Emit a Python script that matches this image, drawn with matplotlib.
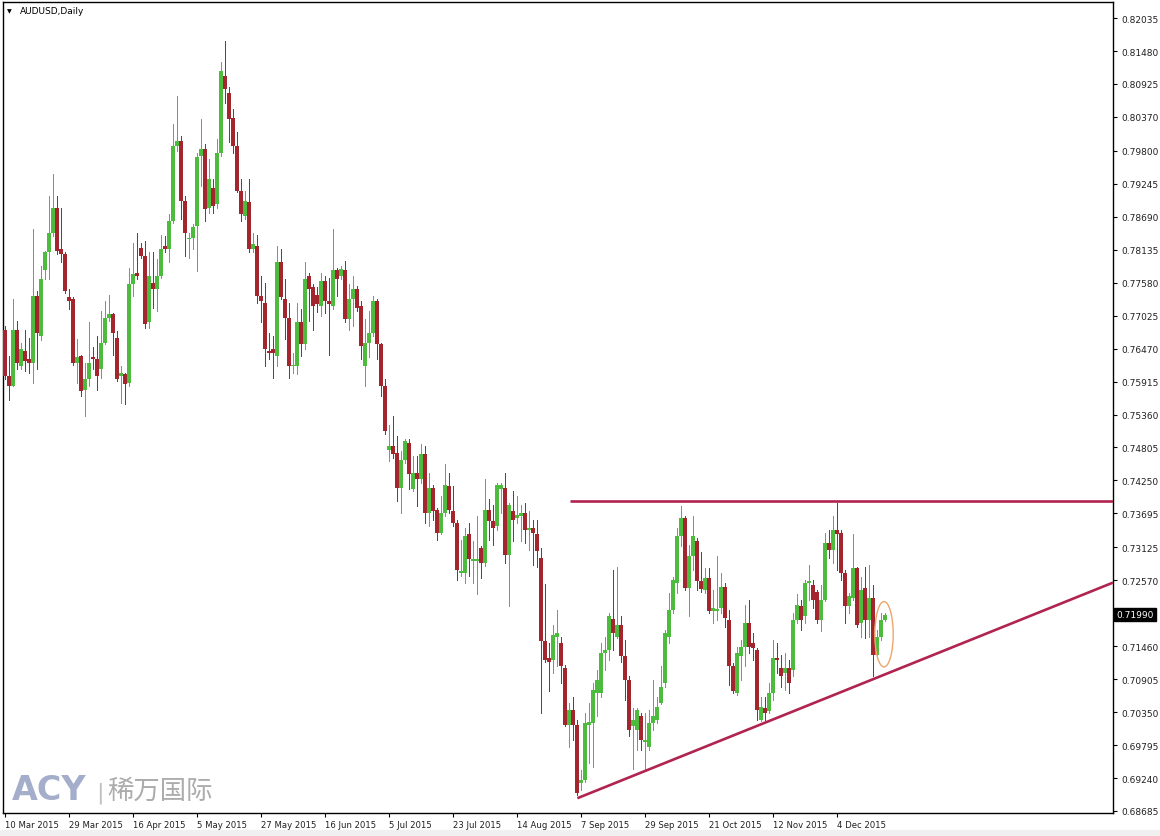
import matplotlib
matplotlib.use('Agg')
import matplotlib.pyplot as plt
from matplotlib.patches import Ellipse, Rectangle
from matplotlib.transforms import blended_transform_factory
import numpy as np

# AUDUSD daily, 10 Mar 2015 -> 18 Dec 2015 (bars)
o = [.7679,.7601,.7584,.7679,.7618,.7643,.7629,.7623,.7735,.7668,
     .7780,.7809,.7842,.7884,.7814,.7806,.7733,.7730,.7623,.7634,
     .7578,.7595,.7632,.7629,.7612,.7657,.7699,.7705,.7665,.7601,
     .7604,.7589,.7755,.7775,.7817,.7803,.7691,.7758,.7747,.7769,
     .7820,.7814,.7862,.7988,.7997,.7896,.7831,.7834,.7854,.7972,
     .7983,.7884,.7918,.7890,.7977,.8106,.8078,.8036,.7988,.7913,
     .7870,.7893,.7814,.7820,.7736,.7724,.7643,.7646,.7634,.7792,
     .7730,.7699,.7618,.7618,.7691,.7654,.7769,.7750,.7738,.7719,
     .7761,.7727,.7719,.7780,.7769,.7780,.7696,.7730,.7747,.7719,
     .7618,.7657,.7674,.7727,.7654,.7584,.7477,.7483,.7472,.7412,
     .7460,.7488,.7410,.7438,.7427,.7469,.7370,.7412,.7376,.7337,
     .7370,.7415,.7373,.7353,.7269,.7269,.7334,.7289,.7290,.7311,
     .7286,.7376,.7356,.7348,.7410,.7412,.7300,.7373,.7362,.7365,
     .7370,.7342,.7345,.7334,.7294,.7154,.7126,.7123,.7162,.7151,
     .7109,.7014,.7039,.7014,.6915,.6921,.7014,.7016,.7067,.7067,
     .7134,.7140,.7191,.7162,.7182,.7129,.7089,.7011,.7005,.7028,
     .6985,.6977,.7016,.7022,.7050,.7084,.7162,.7207,.7252,.7331,
     .7362,.7244,.7297,.7323,.7256,.7241,.7260,.7206,.7205,.7210,
     .7246,.7190,.7112,.7067,.7129,.7145,.7185,.7151,.7140,.7022,
     .7042,.7036,.7067,.7126,.7109,.7100,.7109,.7106,.7190,.7213,
     .7196,.7252,.7249,.7238,.7190,.7224,.7320,.7308,.7342,.7336,
     .7269,.7213,.7227,.7277,.7185,.7244,.7190,.7227,.7131,.7162,
     .7190]
h = [.7685,.7634,.7730,.7693,.7657,.7679,.7665,.7848,.7744,.7786,
     .7812,.7904,.7941,.7904,.7884,.7809,.7747,.7733,.7663,.7636,
     .7623,.7691,.7649,.7668,.7710,.7727,.7738,.7707,.7677,.7618,
     .7606,.7783,.7825,.7842,.7825,.7828,.7809,.7809,.7797,.7839,
     .7837,.7873,.8025,.8073,.8005,.7904,.7842,.7856,.7977,.8033,
     .7991,.7966,.7932,.8000,.8129,.8165,.8087,.8050,.8011,.7932,
     .7913,.7932,.7842,.7839,.7769,.7758,.7674,.7668,.7820,.7814,
     .7764,.7724,.7640,.7724,.7713,.7792,.7775,.7755,.7750,.7775,
     .7769,.7766,.7848,.7783,.7786,.7795,.7755,.7769,.7752,.7727,
     .7696,.7710,.7736,.7730,.7657,.7595,.7519,.7533,.7500,.7474,
     .7494,.7494,.7466,.7466,.7486,.7483,.7438,.7418,.7379,.7398,
     .7452,.7438,.7415,.7359,.7325,.7345,.7353,.7323,.7365,.7314,
     .7427,.7393,.7384,.7421,.7421,.7438,.7387,.7407,.7398,.7384,
     .7387,.7373,.7359,.7359,.7311,.7250,.7151,.7182,.7207,.7162,
     .7115,.7050,.7061,.7022,.6938,.7033,.7050,.7084,.7106,.7151,
     .7162,.7202,.7275,.7280,.7196,.7157,.7095,.7042,.7042,.7033,
     .7033,.7039,.7089,.7061,.7112,.7174,.7236,.7263,.7345,.7382,
     .7365,.7317,.7365,.7328,.7305,.7277,.7277,.7241,.7297,.7269,
     .7252,.7207,.7117,.7145,.7157,.7216,.7224,.7168,.7143,.7061,
     .7061,.7084,.7157,.7151,.7131,.7134,.7123,.7202,.7233,.7224,
     .7258,.7283,.7258,.7241,.7249,.7336,.7342,.7365,.7387,.7342,
     .7275,.7235,.7334,.7280,.7263,.7280,.7283,.7249,.7174,.7202,
     .7202]
l = [.7595,.7561,.7584,.7612,.7612,.7609,.7606,.7589,.7612,.7662,
     .7764,.7764,.7837,.7806,.7792,.7741,.7713,.7620,.7589,.7567,
     .7533,.7584,.7612,.7578,.7598,.7654,.7693,.7637,.7592,.7556,
     .7553,.7584,.7736,.7764,.7800,.7682,.7682,.7716,.7710,.7766,
     .7809,.7792,.7859,.7980,.7865,.7803,.7800,.7814,.7778,.7921,
     .7862,.7876,.7876,.7884,.7972,.8061,.7994,.7977,.7910,.7862,
     .7865,.7809,.7809,.7724,.7691,.7618,.7629,.7598,.7618,.7730,
     .7663,.7598,.7606,.7604,.7634,.7646,.7693,.7679,.7708,.7702,
     .7707,.7637,.7713,.7736,.7764,.7691,.7679,.7685,.7710,.7629,
     .7584,.7632,.7668,.7629,.7567,.7504,.7458,.7463,.7390,.7370,
     .7455,.7410,.7407,.7382,.7421,.7353,.7348,.7359,.7325,.7334,
     .7365,.7370,.7348,.7258,.7264,.7252,.7264,.7252,.7233,.7261,
     .7281,.7325,.7317,.7342,.7370,.7286,.7213,.7323,.7353,.7323,
     .7320,.7308,.7283,.7280,.7033,.7120,.7070,.7101,.7112,.7084,
     .7011,.6977,.6988,.6896,.6904,.6918,.6949,.6943,.7028,.7061,
     .7106,.7123,.7140,.7160,.7120,.7056,.6994,.6940,.6971,.6971,
     .6935,.6971,.7005,.7016,.7048,.7078,.7151,.7202,.7236,.7314,
     .7241,.7196,.7275,.7241,.7237,.7235,.7202,.7185,.7190,.7202,
     .7179,.7081,.7067,.7064,.7089,.7112,.7134,.7123,.7022,.7020,
     .7022,.7033,.7056,.7100,.7078,.7072,.7067,.7095,.7185,.7174,
     .7185,.7224,.7210,.7185,.7171,.7222,.7294,.7286,.7275,.7258,
     .7185,.7202,.7224,.7179,.7162,.7160,.7162,.7095,.7129,.7157,
     .7188]
c = [.7601,.7584,.7679,.7623,.7646,.7626,.7623,.7735,.7674,.7764,
     .7809,.7842,.7884,.7811,.7806,.7744,.7727,.7623,.7632,.7575,
     .7595,.7623,.7629,.7601,.7657,.7699,.7705,.7674,.7595,.7606,
     .7587,.7755,.7772,.7769,.7803,.7688,.7769,.7747,.7769,.7814,
     .7814,.7862,.7988,.7997,.7896,.7842,.7834,.7851,.7969,.7983,
     .7882,.7932,.7887,.7977,.8115,.8084,.8033,.7988,.7913,.7873,
     .7896,.7814,.7823,.7736,.7727,.7646,.7640,.7640,.7792,.7733,
     .7699,.7618,.7620,.7691,.7654,.7764,.7747,.7719,.7722,.7761,
     .7727,.7722,.7780,.7764,.7781,.7696,.7730,.7747,.7716,.7651,
     .7657,.7674,.7727,.7654,.7584,.7508,.7483,.7469,.7412,.7460,
     .7491,.7435,.7438,.7427,.7469,.7370,.7412,.7373,.7337,.7370,
     .7418,.7376,.7353,.7275,.7272,.7331,.7292,.7292,.7292,.7286,
     .7376,.7356,.7345,.7418,.7418,.7300,.7384,.7359,.7367,.7370,
     .7342,.7345,.7337,.7306,.7154,.7123,.7120,.7165,.7168,.7112,
     .7014,.7039,.7014,.6898,.6921,.7016,.7019,.7073,.7089,.7134,
     .7140,.7196,.7168,.7182,.7129,.7089,.7005,.7022,.7039,.6988,
     .6988,.7016,.7028,.7044,.7078,.7168,.7207,.7258,.7331,.7362,
     .7244,.7297,.7331,.7255,.7243,.7260,.7205,.7210,.7208,.7246,
     .7193,.7112,.7070,.7134,.7145,.7185,.7145,.7143,.7039,.7044,
     .7033,.7067,.7126,.7123,.7095,.7109,.7084,.7190,.7216,.7190,
     .7252,.7255,.7224,.7190,.7224,.7320,.7308,.7342,.7334,.7269,
     .7213,.7230,.7277,.7182,.7241,.7190,.7227,.7131,.7162,.7190,
     .7199]

date_labels = ['10 Mar 2015', '29 Mar 2015', '16 Apr 2015', '5 May 2015', '27 May 2015',
               '16 Jun 2015', '5 Jul 2015', '23 Jul 2015', '14 Aug 2015', '7 Sep 2015',
               '29 Sep 2015', '21 Oct 2015', '12 Nov 2015', '4 Dec 2015']
bars_per_label = 16
price_ticks = [0.82035, 0.81480, 0.80925, 0.80370, 0.79800, 0.79245, 0.78690, 0.78135,
               0.77580, 0.77025, 0.76470, 0.75915, 0.75360, 0.74805, 0.74250, 0.73695,
               0.73125, 0.72570, 0.71460, 0.70905, 0.70350, 0.69795, 0.69240, 0.68685]
last_price = 0.71990

# drawn objects (bar index, price)
resist_x = [141.25, 277]; resist_y = [0.7391, 0.7391]
trend_x = [143.1, 277]; trend_y = [0.6890, 0.7253]
circle_xy = (219.75, 0.7166); circle_w = 4.6; circle_h = 0.0110

o = np.array(o); h = np.array(h); l = np.array(l); c = np.array(c)
x = np.arange(len(o))
up = c >= o
bull = '#4cbb3e'
bear = '#a3252d'
cols = np.where(up, bull, bear)

fig = plt.figure(figsize=(11.6, 8.37), dpi=100)
ax = fig.add_axes([3/1160, 23/837, 1110/1160, 811/837])

# wicks 1px, bodies ~3px like MT4
ax.vlines(x, l, h, colors=cols, linewidth=0.72, zorder=2, antialiased=False)
body = np.maximum(np.abs(c - o), 0.0001)
ax.bar(x, body, bottom=np.minimum(o, c), width=0.78, color=cols, linewidth=0, zorder=3,
       antialiased=False)

# support / resistance lines
ax.plot(resist_x, resist_y, color='#b0244f', linewidth=1.9, solid_capstyle='butt', zorder=4)
ax.plot(trend_x, trend_y, color='#b0244f', linewidth=1.9, solid_capstyle='butt', zorder=4)
ax.add_patch(Ellipse(circle_xy, circle_w, circle_h, fill=False, edgecolor='#eea56a', linewidth=1.0, zorder=5))

ax.set_xlim(-0.5, 277)
ax.set_ylim(0.68651, 0.82305)

ax.yaxis.tick_right()
ax.set_yticks(price_ticks)
ax.set_yticklabels(['%.5f' % p for p in price_ticks], fontsize=6.5, color='#202020')
ax.tick_params(axis='y', direction='out', length=3, width=0.8, pad=3)

tick_pos = [i * bars_per_label for i in range(len(date_labels))]
ax.set_xticks(tick_pos)
ax.set_xticklabels(date_labels, fontsize=6.1, color='#202020', ha='left')
ax.tick_params(axis='x', direction='out', length=3, width=0.8, pad=2)

for s in ax.spines.values():
    s.set_linewidth(1.0)
    s.set_color('black')

# current price box on the right scale
tr = blended_transform_factory(ax.transAxes, ax.transData)
ax.text(1.003, last_price, '%.5f' % last_price, transform=tr, fontsize=6.5, color='white',
        va='center', ha='left', bbox=dict(boxstyle='square,pad=0.25', fc='black', ec='black'))

# header
fig.text(9/1160, 1 - 12/837, '\u25bc', fontsize=4.5, va='center', ha='center', color='black')
fig.text(20/1160, 1 - 12/837, 'AUDUSD,Daily', fontsize=6.5, va='center', ha='left', color='black')

# watermark
fig.text(12/1160, (837 - 800)/837, 'ACY', fontsize=24, fontweight='bold', color='#a4aecb',
         va='baseline', ha='left')
fig.text(96/1160, (837 - 799)/837, '|', fontsize=16, color='#c0c0c0', va='baseline', ha='left')
fig.text(107/1160, (837 - 799)/837, '稀万国际', fontsize=19, color='#acacac', va='baseline',
         ha='left', family=['Noto Sans CJK SC', 'DejaVu Sans'])

fig.add_artist(Rectangle((0, 0), 1, 6/837, transform=fig.transFigure, color='#f0f0f0', zorder=0))

fig.savefig('out.png', dpi=100)
